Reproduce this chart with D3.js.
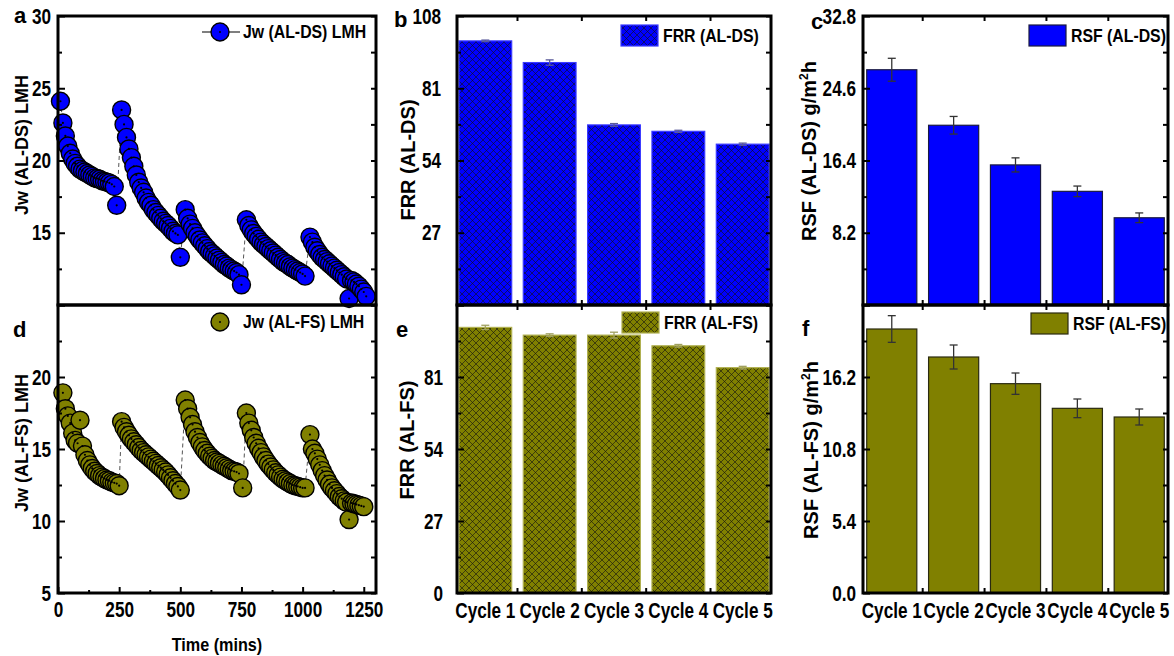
<!DOCTYPE html>
<html>
<head>
<meta charset="utf-8">
<script src="https://cdn.jsdelivr.net/npm/d3@7"></script>
<style>
body { margin: 0; background: #fff; }
svg { display: block; }
</style>
</head>
<body>
<svg id="chart" width="1174" height="656"></svg>
<script>
// ---- data ----
const timeDS = [10,20,30,40,50,60,70,80,90,100,110,120,130,140,150,160,170,180,190,200,210,220,230,240,
  260,270,280,290,300,310,320,330,340,350,360,370,380,390,400,410,420,430,440,450,460,470,480,490,500,
  520,530,540,550,560,570,580,590,600,610,620,630,640,650,660,670,680,690,700,710,720,730,740,750,
  770,780,790,800,810,820,830,840,850,860,870,880,890,900,910,920,930,940,950,960,970,980,990,1000,1010,
  1030,1040,1050,1060,1070,1080,1090,1100,1110,1120,1130,1140,1150,1160,1170,1180,1190,1200,1210,1220,1230,1240,1250,1260]
const jwDS = [24.1,22.6,21.7,21.0,20.5,20.1,19.8,19.6,19.4,19.3,19.2,19.1,19.0,18.9,18.8,18.75,18.7,18.6,18.55,18.5,18.45,18.35,18.2,16.9,
  23.5,22.5,21.6,20.8,20.2,19.6,19.0,18.5,18.1,17.8,17.4,17.1,16.9,16.6,16.4,16.2,16.0,15.8,15.65,15.5,15.3,15.1,14.95,14.85,13.3,
  16.6,16.0,15.6,15.3,15.0,14.75,14.5,14.3,14.1,13.9,13.7,13.55,13.4,13.25,13.1,12.95,12.8,12.7,12.55,12.45,12.35,12.25,12.1,11.4,
  15.9,15.5,15.2,14.95,14.75,14.55,14.35,14.2,14.05,13.9,13.75,13.6,13.45,13.3,13.15,13.0,12.9,12.8,12.65,12.55,12.45,12.35,12.25,12.15,12.0,
  14.7,14.35,14.0,13.75,13.5,13.3,13.15,13.0,12.85,12.7,12.55,12.4,12.25,12.1,11.95,11.8,10.45,11.7,11.6,11.45,11.3,11.1,10.9,10.6]

const timeFS = [20,30,40,50,60,70,80,90,100,110,120,130,140,150,160,170,180,190,200,210,220,230,240,250,
  260,270,280,290,300,310,320,330,340,350,360,370,380,390,400,410,420,430,440,450,460,470,480,490,500,
  520,530,540,550,560,570,580,590,600,610,620,630,640,650,660,670,680,690,700,710,720,730,740,755,
  770,780,790,800,810,820,830,840,850,860,870,880,890,900,910,920,930,940,950,960,970,980,990,1000,1010,
  1030,1040,1050,1060,1070,1080,1090,1100,1110,1120,1130,1140,1150,1160,1170,1180,1190,1200,1210,1220,1230,1240,1250]
const jwFS = [18.9,17.8,17.3,16.8,16.1,15.6,15.4,17.0,15.2,14.6,14.2,13.9,13.65,13.45,13.3,13.15,13.05,12.95,12.85,12.8,12.7,12.65,12.6,12.45,
  16.9,16.5,16.2,15.95,15.7,15.5,15.3,15.1,14.9,14.75,14.6,14.45,14.3,14.15,14.0,13.85,13.7,13.55,13.4,13.2,13.0,12.8,12.6,12.4,12.15,
  18.4,17.8,17.2,16.7,16.2,15.8,15.45,15.15,14.9,14.7,14.5,14.35,14.2,14.1,14.0,13.9,13.8,13.7,13.6,13.5,13.45,13.4,13.3,12.3,
  17.5,16.8,16.3,15.8,15.4,15.05,14.75,14.45,14.2,13.95,13.75,13.55,13.35,13.2,13.05,12.9,12.8,12.7,12.6,12.5,12.45,12.4,12.35,12.3,12.3,
  16.0,15.0,14.7,14.3,13.9,13.5,13.15,12.85,12.55,12.3,12.1,11.9,11.7,11.55,11.4,11.3,10.1,11.25,11.2,11.15,11.1,11.05,11.0]

const cycles = ["Cycle 1", "Cycle 2", "Cycle 3", "Cycle 4", "Cycle 5"]
const frrDS = [98.7, 90.6, 67.3, 64.9, 60.1]
const frrDSErr = [0.3, 1.0, 0.5, 0.4, 0.4]
const frrFS = [99.6, 96.7, 96.7, 92.7, 84.5]
const frrFSErr = [0.8, 0.5, 1.1, 0.5, 0.5]
const rsfDS = [26.7, 20.4, 15.9, 12.9, 9.9]
const rsfDSErr = [1.3, 1.0, 0.8, 0.6, 0.55]
const rsfFS = [19.8, 17.7, 15.7, 13.85, 13.2]
const rsfFSErr = [1.0, 0.9, 0.8, 0.7, 0.6]

const timeTicks = [0, 250, 500, 750, 1000, 1250]
const timeMinor = [125, 375, 625, 875, 1125]
const jwDSTicks = [10, 15, 20, 25, 30], jwDSLabels = [15, 20, 25, 30]
const jwFSTicks = [5, 10, 15, 20, 25], jwFSLabels = [5, 10, 15, 20]
const frrTicks = [0, 27, 54, 81, 108]
const frrDSLabels = [27, 54, 81, 108], frrFSLabels = [0, 27, 54, 81]
const rsfDSTicks = [0, 8.2, 16.4, 24.6, 32.8], rsfDSLabels = [8.2, 16.4, 24.6, 32.8]
const rsfFSTicks = [0, 5.4, 10.8, 16.2, 21.6], rsfFSLabels = [0, 5.4, 10.8, 16.2]

// ---- drawing ----
const BLUE = "#0000ff", OLIVE = "#808000"
const SANS = '"Liberation Sans", Arial, sans-serif'
const TICK_FONT = `bold 22px ${SANS}`, TICK_K = 0.78

const svg = d3.select("#chart")
const defs = svg.append("defs")

// the figure's lettering is horizontally condensed
function squeeze(sel, k) {
    sel.each(function() {
        const t = d3.select(this)
        const x = +(t.attr("x") || 0)
        t.attr("x", x / k).attr("transform", `scale(${k},1)`)
    })
}

function label(x, y, txt, size, k, anchor) {
    svg.append("text")
        .attr("transform", `translate(${x},${y}) scale(${k},1)`)
        .attr("text-anchor", anchor || "start")
        .attr("dy", "0.36em")
        .style("font", `bold ${size}px ${SANS}`)
        .text(txt)
}

function hatch(id, color) {
    const p = defs.append("pattern")
        .attr("id", id)
        .attr("patternUnits", "userSpaceOnUse")
        .attr("width", 7).attr("height", 7)
    p.append("rect").attr("width", 7).attr("height", 7).attr("fill", color)
    p.append("path")
        .attr("d", "M0,0L7,7M7,0L0,7M-1,6L1,8M6,-1L8,1M-1,1L1,-1M6,8L8,6")
        .attr("stroke", "#111").attr("stroke-width", 0.7).attr("stroke-opacity", 0.85)
}
hatch("hatchBlue", BLUE)
hatch("hatchOlive", OLIVE)

function yAxes(y, x0, x1, major, labels, fmt, pad) {
    const minor = d3.pairs(major).map(d => (d[0] + d[1]) / 2)
    const gl = svg.append("g").attr("transform", `translate(${x0},0)`)
        .call(d3.axisLeft(y).tickValues(major).tickSizeInner(-7).tickSizeOuter(0).tickPadding(pad)
            .tickFormat(d => labels.includes(d) ? fmt(d) : ""))
    gl.select(".domain").remove()
    gl.selectAll("line").attr("stroke-width", 2)
    gl.selectAll("text").style("font", TICK_FONT).attr("fill", "#000")
    squeeze(gl.selectAll("text"), TICK_K)
    const gm = svg.append("g").attr("transform", `translate(${x0},0)`)
        .call(d3.axisLeft(y).tickValues(minor).tickSize(-4).tickFormat(""))
    gm.select(".domain").remove()
    gm.selectAll("line").attr("stroke-width", 2)
    const gr = svg.append("g").attr("transform", `translate(${x1},0)`)
        .call(d3.axisRight(y).tickValues(major.concat(minor)).tickSize(-5).tickFormat(""))
    gr.select(".domain").remove()
    gr.selectAll("line").attr("stroke-width", 2)
}

function box(x0, x1, y0, y1) {
    svg.append("rect")
        .attr("x", x0).attr("y", y0)
        .attr("width", x1 - x0).attr("height", y1 - y0)
        .attr("fill", "none").attr("stroke", "#000").attr("stroke-width", 3)
}

function yTitle(x, y, txt, size, sup, after) {
    const t = svg.append("text")
        .attr("transform", `translate(${x},${y}) rotate(-90)`)
        .attr("text-anchor", "middle")
        .attr("dy", "0.35em")
        .style("font", `bold ${size}px ${SANS}`)
        .text(txt)
    if (sup) {
        t.append("tspan").attr("dy", -8).style("font-size", "12px").text(sup)
        t.append("tspan").attr("dy", 8).text(after)
    }
}

function panelLetter(x, y, s) {
    svg.append("text").attr("x", x).attr("y", y)
        .style("font", `bold 22px ${SANS}`).text(s)
}

// scatter panel
function scatter(times, vals, color, y, x0, x1, ticks, labels, legendY, legendLine, legendText) {
    const x = d3.scaleLinear().domain([0, 1300]).range([x0, x1])
    const pts = times.map((t, i) => ({t: t, v: vals[i]}))
    const g = svg.append("g")
    g.append("path")
        .datum(pts)
        .attr("fill", "none")
        .attr("stroke", "#555")
        .attr("stroke-width", 1)
        .attr("stroke-dasharray", "4,3")
        .attr("d", d3.line().x(d => x(d.t)).y(d => y(d.v)))
    g.selectAll("circle.m")
        .data(pts)
        .enter().append("circle")
        .attr("class", "m")
        .attr("cx", d => x(d.t)).attr("cy", d => y(d.v))
        .attr("r", 9)
        .attr("fill", color).attr("stroke", "#000").attr("stroke-width", 1.4)
    g.selectAll("circle.c")
        .data(pts)
        .enter().append("circle")
        .attr("class", "c")
        .attr("cx", d => x(d.t)).attr("cy", d => y(d.v))
        .attr("r", 1.1).attr("fill", "#000")
    yAxes(y, x0, x1, ticks, labels, d => d, 7)
    // legend
    const lg = svg.append("g").attr("transform", `translate(220,${legendY})`)
    if (legendLine) lg.append("line").attr("x1", -18).attr("x2", 20).attr("stroke", "#000").attr("stroke-width", 1.2)
    lg.append("circle").attr("r", 9).attr("fill", color).attr("stroke", "#000").attr("stroke-width", 1.4)
    lg.append("circle").attr("r", 1).attr("fill", "#000")
    label(243, legendY, legendText, 18, 0.88)
    return x
}

const yA = d3.scaleLinear().domain([10, 30]).range([305, 16])
scatter(timeDS, jwDS, BLUE, yA, 58, 376, jwDSTicks, jwDSLabels, 32, true, "Jw (AL-DS) LMH")
const yD = d3.scaleLinear().domain([5, 25]).range([593, 305])
const xD = scatter(timeFS, jwFS, OLIVE, yD, 58, 376, jwFSTicks, jwFSLabels, 322, false, "Jw (AL-FS) LMH")

const gx = svg.append("g").attr("transform", "translate(0,593)")
    .call(d3.axisBottom(xD).tickValues(timeTicks).tickSize(-6).tickPadding(8).tickFormat(d3.format("d")))
gx.select(".domain").remove()
gx.selectAll("line").attr("stroke-width", 2)
gx.selectAll("text").style("font", TICK_FONT).attr("fill", "#000")
squeeze(gx.selectAll("text"), TICK_K)
const gxm = svg.append("g").attr("transform", "translate(0,593)")
    .call(d3.axisBottom(xD).tickValues(timeMinor).tickSize(-3).tickFormat(""))
gxm.select(".domain").remove()
gxm.selectAll("line").attr("stroke-width", 2)

box(58, 376, 16, 305)
box(58, 376, 305, 593)

label(217, 645, "Time (mins)", 18, 0.9, "middle")
yTitle(22, 145, "Jw (AL-DS) LMH", 18)
yTitle(22, 443, "Jw (AL-FS) LMH", 18)

// bar panel
function bars(vals, errs, fill, stroke, errColor, y, x0, x1, y0, y1, ticks, labels, fmt, pad, legend, showCats, pIn, pOut) {
    const x = d3.scaleBand().domain(cycles).range([x0, x1]).paddingInner(pIn).paddingOuter(pOut)
    const data = cycles.map((c, i) => ({c: c, v: vals[i], e: errs[i]}))
    svg.append("g").selectAll("rect")
        .data(data)
        .enter().append("rect")
        .attr("x", d => x(d.c))
        .attr("y", d => y(d.v))
        .attr("width", x.bandwidth())
        .attr("height", d => y(0) - y(d.v))
        .attr("fill", fill)
        .attr("stroke", stroke).attr("stroke-width", 1.2)
    const eb = svg.append("g").attr("stroke", errColor).attr("stroke-width", 1.3)
    data.forEach(d => {
        const cx = x(d.c) + x.bandwidth() / 2
        eb.append("line").attr("x1", cx).attr("x2", cx).attr("y1", y(d.v + d.e)).attr("y2", y(d.v - d.e))
        eb.append("line").attr("x1", cx - 4).attr("x2", cx + 4).attr("y1", y(d.v + d.e)).attr("y2", y(d.v + d.e))
        eb.append("line").attr("x1", cx - 4).attr("x2", cx + 4).attr("y1", y(d.v - d.e)).attr("y2", y(d.v - d.e))
    })
    yAxes(y, x0, x1, ticks, labels, fmt, pad)
    // boundary ticks, bottom and top
    const bounds = cycles.slice(0, 4).map(c => x(c) + x.bandwidth() + x.step() * x.paddingInner() / 2)
    const bt = svg.append("g").attr("stroke", "#000").attr("stroke-width", 2)
    bounds.forEach(b => {
        bt.append("line").attr("x1", b).attr("x2", b).attr("y1", y1).attr("y2", y1 - 5)
        bt.append("line").attr("x1", b).attr("x2", b).attr("y1", y0).attr("y2", y0 + 5)
    })
    if (showCats) {
        const gc = svg.append("g").attr("transform", `translate(0,${y1})`)
            .call(d3.axisBottom(x).tickSize(0).tickPadding(9))
        gc.select(".domain").remove()
        gc.selectAll("text").style("font", TICK_FONT).attr("fill", "#000")
        squeeze(gc.selectAll("text"), TICK_K)
    }
    box(x0, x1, y0, y1)
    // legend
    svg.append("rect").attr("x", legend.x).attr("y", legend.y)
        .attr("width", 37).attr("height", 21)
        .attr("fill", fill).attr("stroke", stroke).attr("stroke-width", 1.2)
    label(legend.x + 42, legend.y + 10.5, legend.text, 18, 0.88)
}

const yB = d3.scaleLinear().domain([0, 108]).range([305, 16])
bars(frrDS, frrDSErr, "url(#hatchBlue)", "#3a3aff", "#5a5a9a", yB, 457, 771, 16, 305,
    frrTicks, frrDSLabels, d => d, 16, {x: 621, y: 25, text: "FRR (AL-DS)"}, false, 0.18, 0.03)
const yE = d3.scaleLinear().domain([0, 108]).range([593, 305])
bars(frrFS, frrFSErr, "url(#hatchOlive)", "#b0b050", "#a0a060", yE, 457, 771, 305, 593,
    frrTicks, frrFSLabels, d => d, 14, {x: 622, y: 312, text: "FRR (AL-FS)"}, true, 0.18, 0.03)

const yC = d3.scaleLinear().domain([0, 32.8]).range([305, 16])
bars(rsfDS, rsfDSErr, BLUE, "#1a1a40", "#333", yC, 863, 1168, 16, 305,
    rsfDSTicks, rsfDSLabels, d3.format(".1f"), 7, {x: 1029, y: 25, text: "RSF (AL-DS)"}, false, 0.19, 0.06)
const yF = d3.scaleLinear().domain([0, 21.6]).range([593, 305])
bars(rsfFS, rsfFSErr, OLIVE, "#2a2a10", "#333", yF, 863, 1168, 305, 593,
    rsfFSTicks, rsfFSLabels, d3.format(".1f"), 7, {x: 1031, y: 313, text: "RSF (AL-FS)"}, true, 0.19, 0.06)

yTitle(408, 160, "FRR (AL-DS)", 20)
yTitle(407, 440, "FRR (AL-FS)", 20)
yTitle(809, 151, "RSF (AL-DS) g/m", 20, "2", "h")
yTitle(811, 450, "RSF (AL-FS) g/m", 20, "2", "h")

panelLetter(14, 23, "a")
panelLetter(394, 27, "b")
panelLetter(811, 29, "c")
panelLetter(13, 337, "d")
panelLetter(396, 337, "e")
panelLetter(802, 336, "f")
</script>
</body>
</html>
